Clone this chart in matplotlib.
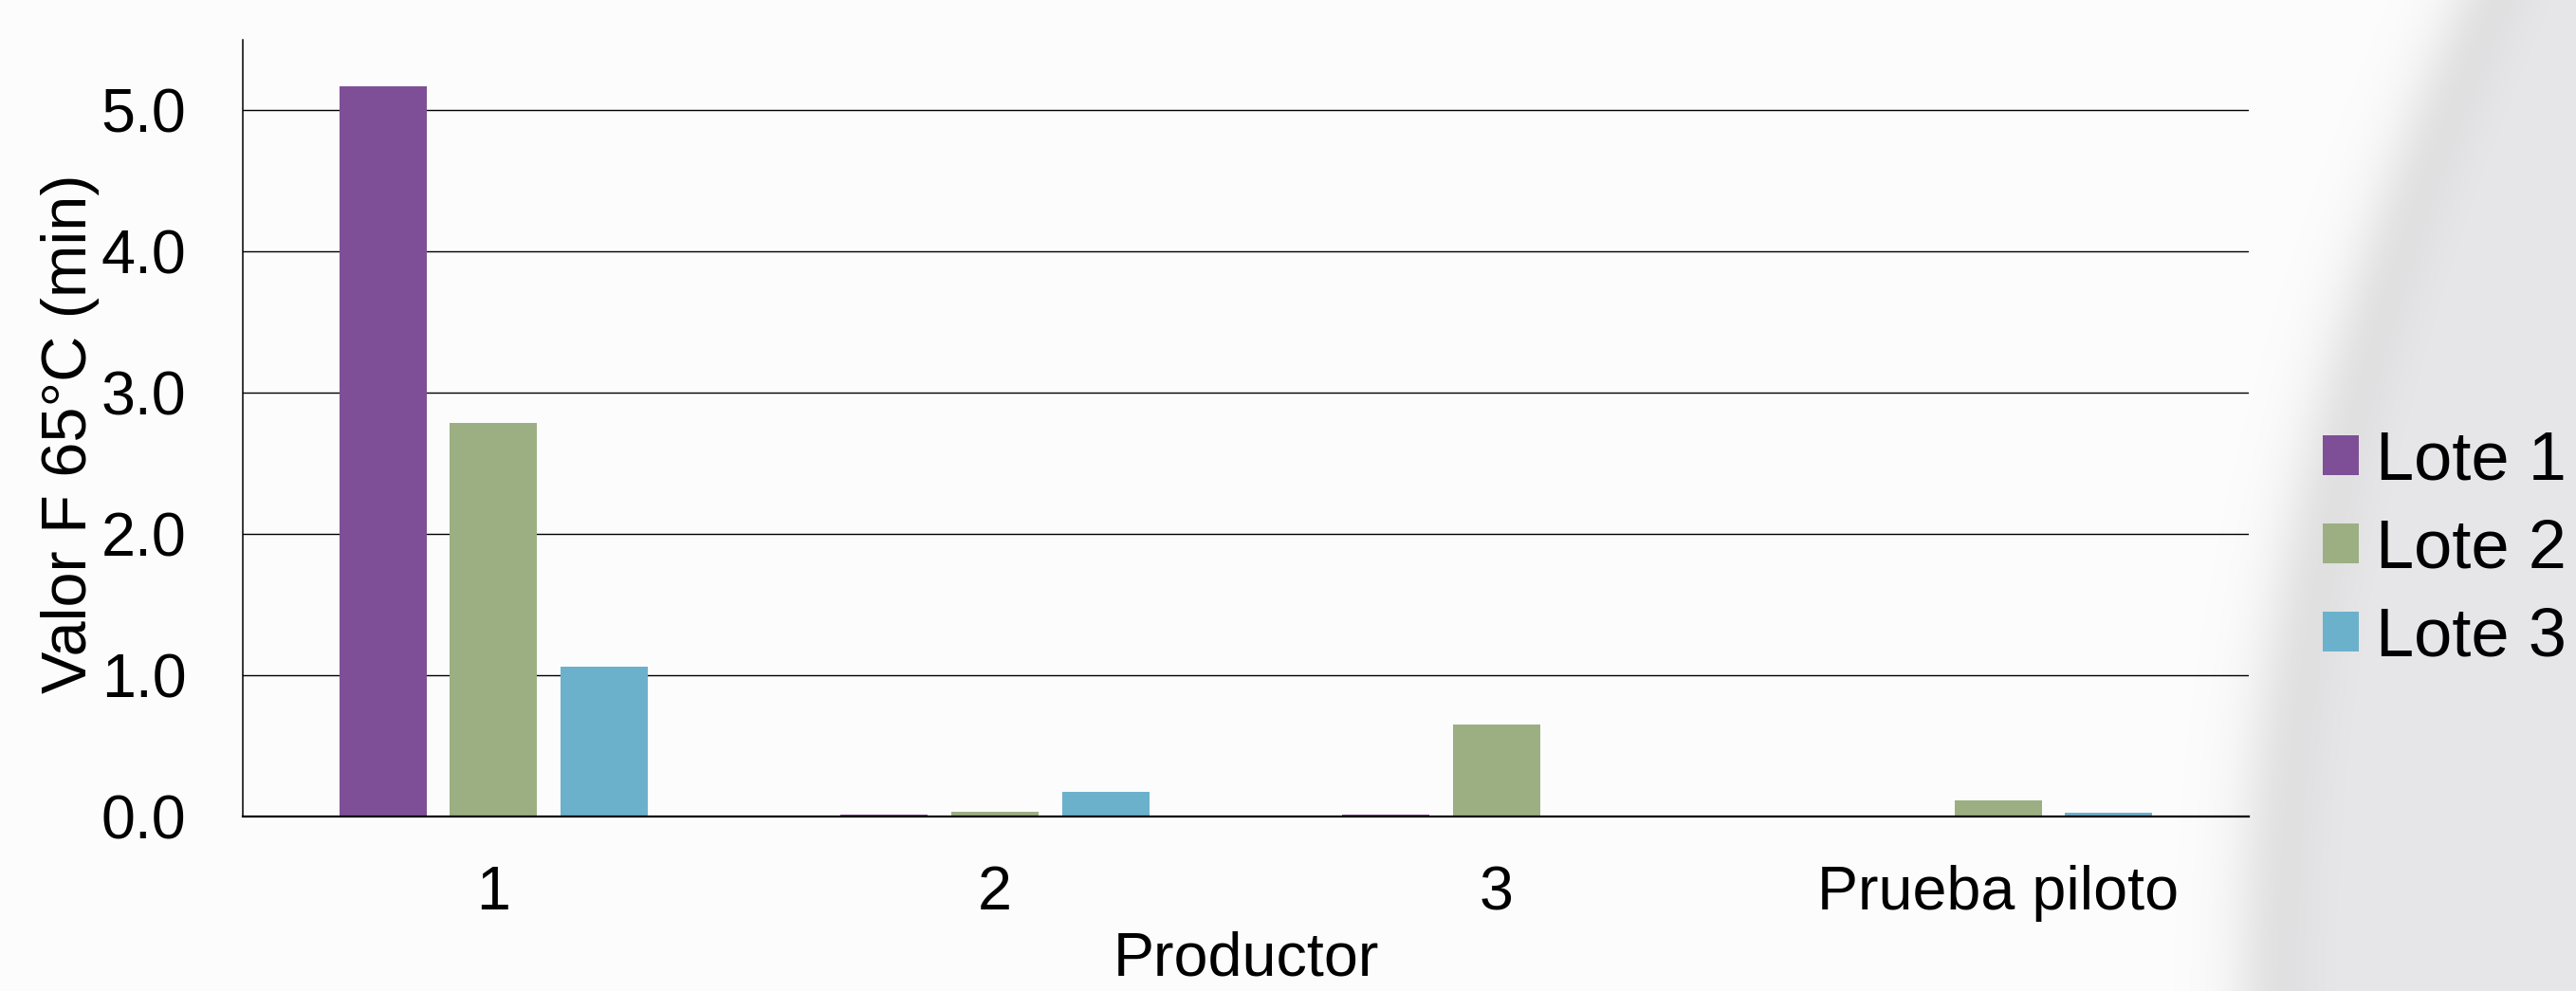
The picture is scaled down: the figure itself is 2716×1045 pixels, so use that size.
import numpy as np
import matplotlib
matplotlib.use("Agg")
import matplotlib.pyplot as plt
from matplotlib.patches import Patch

# ============================================================
# Data
# ============================================================
productores = ["1", "2", "3", "Prueba piloto"]
lotes = ["Lote 1", "Lote 2", "Lote 3"]
lote1 = [5.17, 0.012, 0.012, 0.0]
lote2 = [2.79, 0.035, 0.65, 0.115]
lote3 = [1.06, 0.175, 0.006, 0.028]
yticks = [0.0, 1.0, 2.0, 3.0, 4.0, 5.0]

colores = ["#7E4F96", "#9CAF83", "#6BB1CB"]

# ============================================================
# Style
# ============================================================
plt.rcParams.update({
    "font.family": ["Liberation Sans", "DejaVu Sans"],
    "text.color": "black",
    "axes.labelcolor": "black",
    "xtick.color": "black",
    "ytick.color": "black",
})

W, H = 2716, 1045
fig = plt.figure(figsize=(W / 100, H / 100), dpi=100)
fig.patch.set_facecolor("white")

# ------------------------------------------------------------
# Slide background: soft grey swoosh on the right
# ------------------------------------------------------------
yy, xx = np.mgrid[0:H, 0:W].astype(float)
x_edge = 2373 + 227 * (1 - yy / H) ** 2
d = xx - x_edge
white = 0.992
base = white + (0.905 - white) / (1 + np.exp(-d / 26.0))
band = 0.045 * np.exp(-((d - 25) / 45.0) ** 2)
val = base - band
tint = 0.012 * (d > 0) * (1 - np.exp(-np.clip(d, 0, None) / 80))
rgb = np.clip(np.dstack([val, val, val + tint]), 0, 1)
ax_bg = fig.add_axes([0, 0, 1, 1], zorder=-2)
ax_bg.imshow(rgb, extent=(0, W, 0, H), aspect="auto", interpolation="bilinear")
ax_bg.set_axis_off()

# ------------------------------------------------------------
# Bar chart
# ------------------------------------------------------------
left, right = 256 / W, 2371 / W
bottom, top = 1 - 861 / H, 1 - 42 / H
ax = fig.add_axes([left, bottom, right - left, top - bottom])
ax.set_facecolor("none")

x = np.arange(len(productores))
ancho = 0.174
paso = 0.221
for i, (serie, color, nombre) in enumerate(zip([lote1, lote2, lote3], colores, lotes)):
    ax.bar(x + (i - 1) * paso, serie, width=ancho, color=color, label=nombre,
           linewidth=0, zorder=3)

ax.set_xlim(-0.5, len(productores) - 0.5)
ax.set_ylim(0, 5.5)
ax.set_yticks(yticks)
ax.set_yticklabels([f"{v:.1f}" for v in yticks])
ax.set_xticks(x)
ax.set_xticklabels(productores)

ax.yaxis.grid(True, color="black", linewidth=1.0)
ax.set_axisbelow(True)

for s in ["top", "right"]:
    ax.spines[s].set_visible(False)
ax.spines["left"].set_linewidth(1.1)
ax.spines["bottom"].set_linewidth(1.6)
ax.spines["left"].set_zorder(4)
ax.spines["bottom"].set_zorder(4)

ax.tick_params(axis="y", length=0, pad=43, labelsize=46.5)
ax.tick_params(axis="x", length=0, pad=37, labelsize=46.5)

ax.set_ylabel("Valor F 65°C (min)", fontsize=48)
ax.yaxis.set_label_coords(-0.0714, 0.493)
ax.set_xlabel("Productor", fontsize=46.5)
ax.xaxis.set_label_coords(0.5, -0.147)

# ------------------------------------------------------------
# Legend
# ------------------------------------------------------------
handles = [Patch(facecolor=c, edgecolor="none") for c in colores]
fig.legend(handles, lotes, loc="center left", bbox_to_anchor=(2449 / W, 1 - 580 / H),
           frameon=False, fontsize=52, borderpad=0, borderaxespad=0,
           handlelength=0.53, handleheight=0.53, handletextpad=0.24,
           labelspacing=0.36)

fig.savefig("out.png", dpi=100, facecolor=fig.get_facecolor())
